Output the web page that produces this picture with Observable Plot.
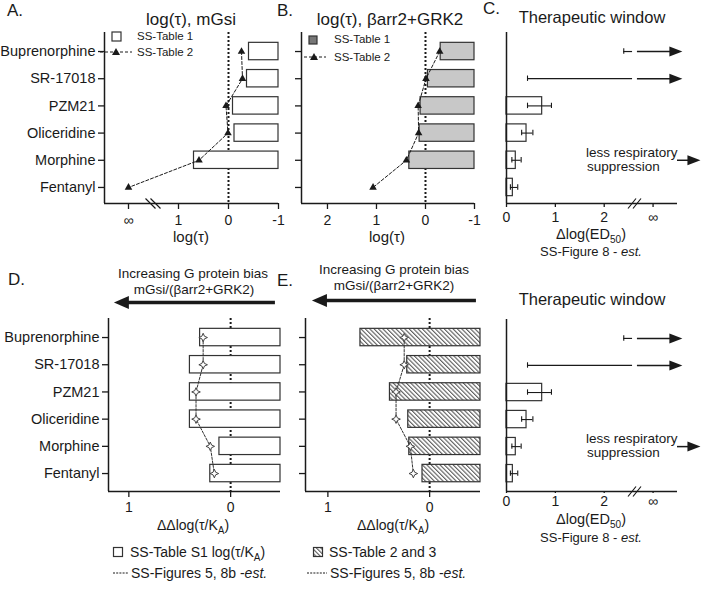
<!DOCTYPE html>
<html><head><meta charset="utf-8">
<script src="https://cdn.jsdelivr.net/npm/d3@7"></script>
<script src="https://cdn.jsdelivr.net/npm/@observablehq/plot@0.6"></script>
<style>
body{margin:0;background:#fff;}
#wrap{position:relative;width:703px;height:589px;font-family:Arial,"Liberation Sans",Helvetica,sans-serif;background:#fff;overflow:hidden}
#wrap > svg{position:absolute}
</style></head><body><div id="wrap"></div>
<script>
// ---------- data ----------
const drugs = ["Buprenorphine", "SR-17018", "PZM21", "Oliceridine", "Morphine", "Fentanyl"];
// A: log(tau), mGsi
const mGsiTable1 = [-0.41, -0.37, -0.09, -0.12, 0.69, null];
const mGsiTable2 = [-0.26, -0.28, 0.05, 0.01, 0.59, Infinity];
// B: log(tau), barr2+GRK2
const arrTable1 = [-0.31, -0.05, 0.10, 0.12, 0.33, null];
const arrTable2 = [-0.29, -0.01, 0.15, 0.14, 0.39, 1.07];
// C: therapeutic window, dlog(ED50)
const ed50 = [null, null, 0.73, 0.41, 0.19, 0.13];
const ed50Lo = [2.40, 0.43, 0.43, 0.31, 0.11, 0.08];
const ed50Hi = [Infinity, Infinity, 0.92, 0.54, 0.30, 0.23];
// D: ddlog(tau/KA), SS-Table S1 and SS-Figures 5, 8b
const biasS1 = [0.30, 0.40, 0.40, 0.40, 0.11, 0.20];
const biasFigD = [0.27, 0.27, 0.34, 0.34, 0.20, 0.16];
// E: ddlog(tau/KA), SS-Table 2 and 3 and SS-Figures 5, 8b
const biasT23 = [0.68, 0.22, 0.39, 0.21, 0.20, 0.07];
const biasFigE = [0.25, 0.25, 0.33, 0.33, 0.19, 0.16];
// tick values
const tauTicks = [Infinity, 1, 0, -1];
const tauTicksB = [2, 1, 0, -1];
const edTicks = [0, 1, 2, Infinity];
const biasTicks = [1, 0];

// ---------- drawing config ----------
const FONT = "Arial, 'Liberation Sans', Helvetica, sans-serif";
const INK = "#1a1a1a", BAR = "#333";
const H = 0.32;                      // bar half height (row units)
const topY = [5.59, -0.7], botY = [5.66, -0.7];
const INF_TAU = 2, INF_ED = 3;       // where the infinity tick sits
const breakTau = 1.5, breakEd = 2.63, gapEd = 0.05, tipEd = 3.6;
const idx = drugs.map((_, i) => i);
const finTau = v => v === Infinity ? INF_TAU : v;
const finEd = v => v === Infinity ? INF_ED : v;
const fmt = v => v === Infinity ? "∞" : (v < 0 ? "-" + Math.abs(v) : String(v));

const triRight = {draw(c){ c.moveTo(0,0); c.lineTo(-13,-5); c.lineTo(-13,5); c.closePath(); }};
const triLeft  = {draw(c){ c.moveTo(0,0); c.lineTo(15,-6.5); c.lineTo(15,6.5); c.closePath(); }};
const star4 = {draw(c){ const r=4.3, q=1.3; c.moveTo(0,-r); c.lineTo(q,-q); c.lineTo(r,0); c.lineTo(q,q); c.lineTo(0,r); c.lineTo(-q,q); c.lineTo(-r,0); c.lineTo(-q,-q); c.closePath(); }};
const breakBack = {draw(c){ c.moveTo(-8,-5); c.lineTo(2,5); c.moveTo(-3,-5); c.lineTo(7,5); }};
const breakFwd  = {draw(c){ c.moveTo(-7,5); c.lineTo(1,-5); c.moveTo(-2,5); c.lineTo(6,-5); }};

const wrap = document.getElementById("wrap");
function place(svg, left, top){ svg.style.left = left + "px"; svg.style.top = top + "px"; wrap.appendChild(svg); }
const base = (w, h, m) => ({width: w, height: h, marginLeft: m[0], marginRight: m[1], marginTop: m[2], marginBottom: m[3],
  style: {fontFamily: FONT, color: INK, background: "transparent", overflow: "visible"}});

// ---------- A & B ----------
function tauPanel(t1, t2, xdom, dims, opts) {
  return Plot.plot({
    ...base(...dims),
    x: {domain: xdom},
    y: {domain: topY},
    marks: [
      Plot.ruleX([0], {stroke: INK, strokeWidth: 2, strokeDasharray: "2,2"}),
      Plot.rect(idx.filter(i => t1[i] != null), {x1: -1, x2: i => t1[i], y1: i => i - H, y2: i => i + H, fill: opts.fill, stroke: BAR, strokeWidth: 1.2}),
      Plot.line(idx, {x: i => finTau(t2[i]), y: i => i, stroke: INK, strokeWidth: 1, strokeDasharray: "3,2"}),
      Plot.dot(idx, {x: i => finTau(t2[i]), y: i => i, symbol: "triangle", r: 2.8, fill: INK, stroke: "none"}),
      Plot.ruleX([xdom[0]], {stroke: INK, strokeWidth: 1.5}),
      Plot.ruleY([topY[0]], {stroke: INK, strokeWidth: 1.5}),
      Plot.axisY({ticks: idx, tickFormat: opts.labels ? (i => drugs[i]) : (() => ""), tickSize: 6, tickPadding: 3, fontSize: 14.5, strokeWidth: 1.3, label: null}),
      Plot.axisX({ticks: opts.ticks.map(finTau), tickFormat: (v, k) => fmt(opts.ticks[k]), tickSize: 6, tickPadding: 6, fontSize: 14, strokeWidth: 1.3, label: null}),
      ...(opts.brk ? [Plot.dot([breakTau], {x: d => d, y: () => topY[0], symbol: breakBack, fill: "none", stroke: INK, strokeWidth: 1.2})] : [])
    ]
  });
}
place(tauPanel(mGsiTable1, mGsiTable2, [2.48, -1], [280, 250, [104, 2, 32, 47]], {fill: "white", labels: true, ticks: tauTicks, brk: true}), 0, 0);
place(tauPanel(arrTable1, arrTable2, [2.53, -1], [200, 250, [21, 6, 32, 47]], {fill: "#c8c8c8", labels: false, ticks: tauTicksB, brk: false}), 280, 0);

// ---------- C (and bottom copy) ----------
function edPanel(ydom, dims, tick) {
  const fin = idx.filter(i => ed50Hi[i] !== Infinity);
  const inf = idx.filter(i => ed50Hi[i] === Infinity);
  return Plot.plot({
    ...base(...dims),
    x: {domain: [0, 3.5]},
    y: {domain: ydom, axis: null},
    marks: [
      Plot.rect(idx.filter(i => ed50[i] != null), {x1: 0, x2: i => ed50[i], y1: i => i - H, y2: i => i + H, fill: "white", stroke: BAR, strokeWidth: 1.2}),
      Plot.ruleY(fin, {y: i => i, x1: i => ed50Lo[i], x2: i => ed50Hi[i], stroke: INK, strokeWidth: 1.1}),
      Plot.ruleX(idx, {x: i => ed50Lo[i], y1: i => i - 0.1, y2: i => i + 0.1, stroke: INK, strokeWidth: 1.1}),
      Plot.ruleX(fin, {x: i => ed50Hi[i], y1: i => i - 0.1, y2: i => i + 0.1, stroke: INK, strokeWidth: 1.1}),
      Plot.ruleY(inf, {y: i => i, x1: i => ed50Lo[i], x2: breakEd - gapEd, stroke: INK, strokeWidth: 1.2}),
      Plot.ruleY(inf, {y: i => i, x1: breakEd + gapEd, x2: tipEd - 0.2, stroke: INK, strokeWidth: 1.5}),
      Plot.dot(inf, {x: tipEd, y: i => i, symbol: triRight, fill: INK, stroke: "none"}),
      // "less respiratory suppression" arrow
      Plot.ruleY([4], {x1: 3.5, x2: 3.8, stroke: INK, strokeWidth: 1.5}),
      Plot.dot([3.97], {x: d => d, y: () => 4, symbol: triRight, fill: INK, stroke: "none"}),
      Plot.ruleX([0], {stroke: INK, strokeWidth: 1.5}),
      Plot.ruleY([ydom[0]], {stroke: INK, strokeWidth: 1.5}),
      Plot.axisX({ticks: edTicks.map(finEd), tickFormat: (v, k) => fmt(edTicks[k]), tickSize: tick[0], tickPadding: tick[1], fontSize: 14, strokeWidth: 1.3, label: null}),
      Plot.dot([breakEd], {x: d => d, y: () => ydom[0], symbol: breakFwd, fill: "none", stroke: INK, strokeWidth: 1.2})
    ]
  });
}
place(edPanel(topY, [223, 250, [26, 26, 32, 47]], [4, 5]), 480, 0);
place(edPanel(botY, [223, 339, [26, 26, 69, 98]], [2, 3]), 480, 250);

// ---------- D & E ----------
function biasPanel(bars, pts, xdom, dims, opts) {
  return Plot.plot({
    ...base(...dims),
    x: {domain: xdom},
    y: {domain: botY},
    marks: [
      Plot.ruleX([0], {stroke: INK, strokeWidth: 2, strokeDasharray: "2,2"}),
      Plot.rect(idx, {x1: xdom[1], x2: i => bars[i], y1: i => i - H, y2: i => i + H, fill: opts.fill, stroke: BAR, strokeWidth: 1.2}),
      Plot.line(idx, {x: i => pts[i], y: i => i, stroke: "#333", strokeWidth: 1, strokeDasharray: "2.5,1.5"}),
      Plot.dot(idx, {x: i => pts[i], y: i => i, symbol: star4, fill: "white", stroke: "#444", strokeWidth: 1}),
      Plot.ruleX([xdom[0]], {stroke: INK, strokeWidth: 1.5}),
      Plot.ruleY([botY[0]], {stroke: INK, strokeWidth: 1.5}),
      Plot.axisY({ticks: idx, tickFormat: opts.labels ? (i => drugs[i]) : (() => ""), tickSize: 6, tickPadding: 3, fontSize: 14.5, strokeWidth: 1.3, label: null}),
      Plot.axisX({ticks: biasTicks, tickFormat: fmt, tickSize: 6, tickPadding: 5, fontSize: 14, strokeWidth: 1.3, label: null}),
      // "Increasing G protein bias" arrow
      Plot.ruleY([opts.arrow.y], {x1: opts.arrow.tip - 0.1, x2: opts.arrow.end, stroke: INK, strokeWidth: 3.5}),
      Plot.dot([opts.arrow.tip], {x: d => d, y: () => opts.arrow.y, symbol: triLeft, fill: INK, stroke: "none"})
    ]
  });
}
place(biasPanel(biasS1, biasFigD, [1.2, -0.49], [290, 339, [108, 10, 68, 98]], {fill: "white", labels: true, arrow: {tip: 1.147, end: -0.44, y: -1.29}}), 0, 250);
place(biasPanel(biasT23, biasFigE, [1.22, -0.5], [190, 339, [15, 0, 68, 98]], {fill: "url(#hatch)", labels: false, arrow: {tip: 1.157, end: -0.46, y: -1.36}}), 290, 250);

// ---------- text, titles & legends ----------
const ns = "http://www.w3.org/2000/svg";
const ov = document.createElementNS(ns, "svg");
ov.setAttribute("width", 703); ov.setAttribute("height", 589);
ov.style.cssText = "left:0;top:0;overflow:visible;pointer-events:none";
const sub = s => `<tspan font-size="10" dy="4">${s}</tspan><tspan dy="-4">)</tspan>`;
ov.innerHTML = `
<defs><pattern id="hatch" width="3.1" height="3.1" patternUnits="userSpaceOnUse" patternTransform="rotate(-45)">
<rect width="3.1" height="3.1" fill="white"/><line x1="0.6" y1="0" x2="0.6" y2="3.1" stroke="#4a4a4a" stroke-width="1"/></pattern></defs>
<g font-family="${FONT}" fill="${INK}">
<text x="7" y="16" font-size="17">A.</text>
<text x="191" y="25" font-size="17" text-anchor="middle">log(τ), mGsi</text>
<text x="277" y="16" font-size="17">B.</text>
<text x="390" y="25" font-size="17" text-anchor="middle">log(τ), βarr2+GRK2</text>
<text x="483" y="14" font-size="17">C.</text>
<text x="592" y="23" font-size="16.5" text-anchor="middle">Therapeutic window</text>
<text x="592" y="305" font-size="16.5" text-anchor="middle">Therapeutic window</text>
<text x="191" y="242" font-size="15" text-anchor="middle">log(τ)</text>
<text x="387" y="242" font-size="15" text-anchor="middle">log(τ)</text>
<text x="591" y="239" font-size="14.5" text-anchor="middle">Δlog(ED${sub("50")}</text>
<text x="591" y="256" font-size="13" text-anchor="middle">SS-Figure 8 - <tspan font-style="italic">est.</tspan></text>
<text x="591" y="524" font-size="14.5" text-anchor="middle">Δlog(ED${sub("50")}</text>
<text x="591" y="542" font-size="13" text-anchor="middle">SS-Figure 8 - <tspan font-style="italic">est.</tspan></text>
<text x="586" y="157" font-size="13.5">less respiratory</text>
<text x="587" y="171" font-size="13.5">suppression</text>
<text x="586" y="443" font-size="13.5">less respiratory</text>
<text x="587" y="457" font-size="13.5">suppression</text>
<text x="8" y="285" font-size="17">D.</text>
<text x="277" y="286" font-size="17">E.</text>
<text x="193" y="278" font-size="13.5" text-anchor="middle">Increasing G protein bias</text>
<text x="194" y="294" font-size="13.5" text-anchor="middle">mGsi/(βarr2+GRK2)</text>
<text x="394" y="274" font-size="13.5" text-anchor="middle">Increasing G protein bias</text>
<text x="394" y="290" font-size="13.5" text-anchor="middle">mGsi/(βarr2+GRK2)</text>
<text x="193" y="530" font-size="14" text-anchor="middle">ΔΔlog(τ/K${sub("A")}</text>
<text x="393" y="530" font-size="14" text-anchor="middle">ΔΔlog(τ/K${sub("A")}</text>
<text x="137" y="40" font-size="11.5">SS-Table 1</text>
<text x="137" y="56" font-size="11.5">SS-Table 2</text>
<text x="334" y="43" font-size="11.5">SS-Table 1</text>
<text x="334" y="61" font-size="11.5">SS-Table 2</text>
<text x="130" y="557" font-size="14">SS-Table S1 log(τ/K${sub("A")}</text>
<text x="131" y="578" font-size="14">SS-Figures 5, 8b -<tspan font-style="italic">est.</tspan></text>
<text x="329" y="557" font-size="14">SS-Table 2 and 3</text>
<text x="330" y="578" font-size="14">SS-Figures 5, 8b -<tspan font-style="italic">est.</tspan></text>
</g>
<g stroke="${BAR}" stroke-width="1.2">
<rect x="112" y="32" width="9" height="9" fill="white"/>
<rect x="309" y="36" width="8" height="8" fill="#777"/>
<rect x="113.5" y="547.5" width="9" height="9" fill="white"/>
<rect x="313.5" y="547.5" width="9" height="9" fill="url(#hatch)"/>
</g>
<g stroke="${INK}" stroke-width="1" stroke-dasharray="3,2">
<line x1="100" y1="52" x2="132" y2="52"/>
<line x1="304" y1="57" x2="326" y2="57"/>
</g>
<g stroke="${INK}" stroke-width="1" stroke-dasharray="2,1.2">
<line x1="113" y1="573" x2="128" y2="573"/>
<line x1="307" y1="573" x2="327" y2="573"/>
</g>
<g fill="${INK}">
<path d="M116,48 L120,55 L112,55 Z"/>
<path d="M314,53 L318,60 L310,60 Z"/>
</g>`;
wrap.appendChild(ov);
</script></body></html>
